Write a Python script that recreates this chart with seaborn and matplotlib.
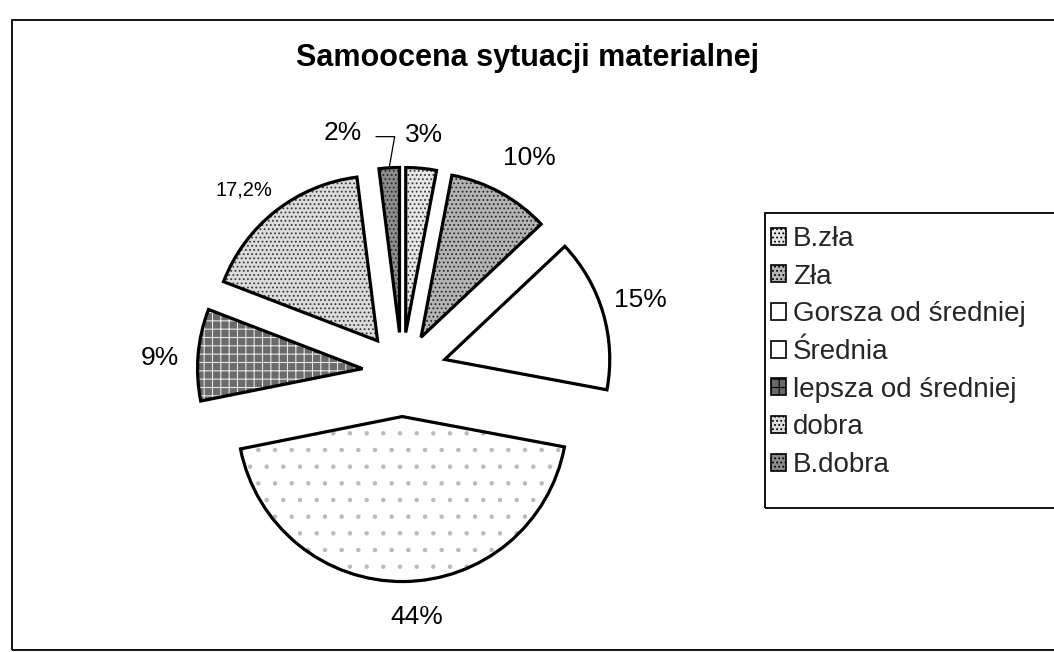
import matplotlib
matplotlib.use("Agg")
import matplotlib.pyplot as plt
from matplotlib.patches import Rectangle
import numpy as np
import seaborn as sns

# ---- data ----
categories = ["B.zła", "Zła", "Gorsza od średniej", "Średnia",
              "lepsza od średniej", "dobra", "B.dobra"]
values = [3, 10, 15, 44, 9, 17.2, 2]
value_labels = ["3%", "10%", "15%", "44%", "9%", "17,2%", "2%"]
title = "Samoocena sytuacji materialnej"

# ---- style ----
sns.set_theme(style="white")
plt.rcParams["font.family"] = ["Liberation Sans", "DejaVu Sans"]
plt.rcParams["hatch.linewidth"] = 0.8

face_colors = ["#e6e6e6", "#b4b4b4", "#ffffff", "#ffffff", "#6a6a6a", "#dcdcdc", "#8c8c8c"]
hatch_colors = ["#3a3a3a", "#2a2a2a", "#ffffff", "#bbbbbb", "#e8e8e8", "#3a3a3a", "#2a2a2a"]
hatches = ["....", "....", "", ".", "++", "....", "...."]
legend_hatches = ["....", "....", "", "", "++", "....", "...."]
explode = [0.24, 0.24, 0.27, 0.27, 0.24, 0.24, 0.24]
label_dist = [1.44, 1.51, 1.51, 1.49, 1.47, 1.46, 1.49]
label_angle_shift = [0, -2, 0.5, 3, 1.5, 3, 10.3]
label_sizes = [19, 19, 19, 19, 19, 14.5, 19]

W, H = 1054, 652
R = 165.0          # pie radius in pixels
cx, cy = 402, 372  # pie centre in pixels (from top-left)

fig = plt.figure(figsize=(W / 100, H / 100), dpi=100)
ax = fig.add_axes([0, 0, 1, 1])
ax.axis("off")

# hatched fills
wedges, _ = ax.pie(values, explode=explode, startangle=90, counterclock=False,
                   colors=face_colors, radius=1.0, center=(0, 0), normalize=True,
                   wedgeprops=dict(linewidth=0), frame=False)
for w, h, hc in zip(wedges, hatches, hatch_colors):
    w.set_hatch(h)
    w.set_edgecolor(hc)
    w.set_linewidth(0)

# black outlines
outl, _ = ax.pie(values, explode=explode, startangle=90, counterclock=False,
                 radius=1.0, center=(0, 0), normalize=True,
                 wedgeprops=dict(fill=False, edgecolor="black", linewidth=2.3), frame=False)
ax.set_xlim(-cx / R, (W - cx) / R)
ax.set_ylim(-(H - cy) / R, cy / R)
ax.set_aspect("auto")

# value labels
for i, w in enumerate(wedges):
    mid = 0.5 * (w.theta1 + w.theta2)
    a = np.deg2rad(mid + label_angle_shift[i])
    x, y = label_dist[i] * np.cos(a), label_dist[i] * np.sin(a)
    if value_labels[i] == "2%":
        am = np.deg2rad(mid)
        tip = ((1.0 + explode[i]) * np.cos(am), (1.0 + explode[i]) * np.sin(am))
        ax.annotate("", xy=tip, xytext=(x + 0.2, y - 0.02),
                    arrowprops=dict(arrowstyle="-", color="black", lw=0.9,
                                    shrinkA=0, shrinkB=0,
                                    connectionstyle="angle,angleA=0,angleB=80,rad=0"))
    ax.text(x, y, value_labels[i], ha="center", va="center",
            fontsize=label_sizes[i], color="black")

# title
fig.text(527 / W, 1 - 58 / H, title, ha="center", va="center",
         fontsize=22, fontweight="bold", color="black")

# legend
handles = [Rectangle((0, 0), 1, 1, facecolor=fc, hatch=h, edgecolor="black", linewidth=1.2)
           for fc, h in zip(face_colors, legend_hatches)]
leg = fig.legend(handles, categories, loc="upper left",
                 bbox_to_anchor=(771 / W, 1 - 226 / H), frameon=False,
                 fontsize=20, borderpad=0, borderaxespad=0,
                 handlelength=0.55, handleheight=0.55, handletextpad=0.25,
                 labelspacing=0.42)

fig.patches.append(Rectangle((765 / W, 1 - 508 / H), (1062 - 765) / W, (508 - 213) / H,
                             transform=fig.transFigure, fill=False,
                             edgecolor="black", linewidth=1.3))
# chart frame
fig.patches.append(Rectangle((12 / W, 1 - 650 / H), (1062 - 12) / W, (650 - 20) / H,
                             transform=fig.transFigure, fill=False,
                             edgecolor="black", linewidth=1.3))

fig.savefig("out.png", dpi=100, facecolor="white")
